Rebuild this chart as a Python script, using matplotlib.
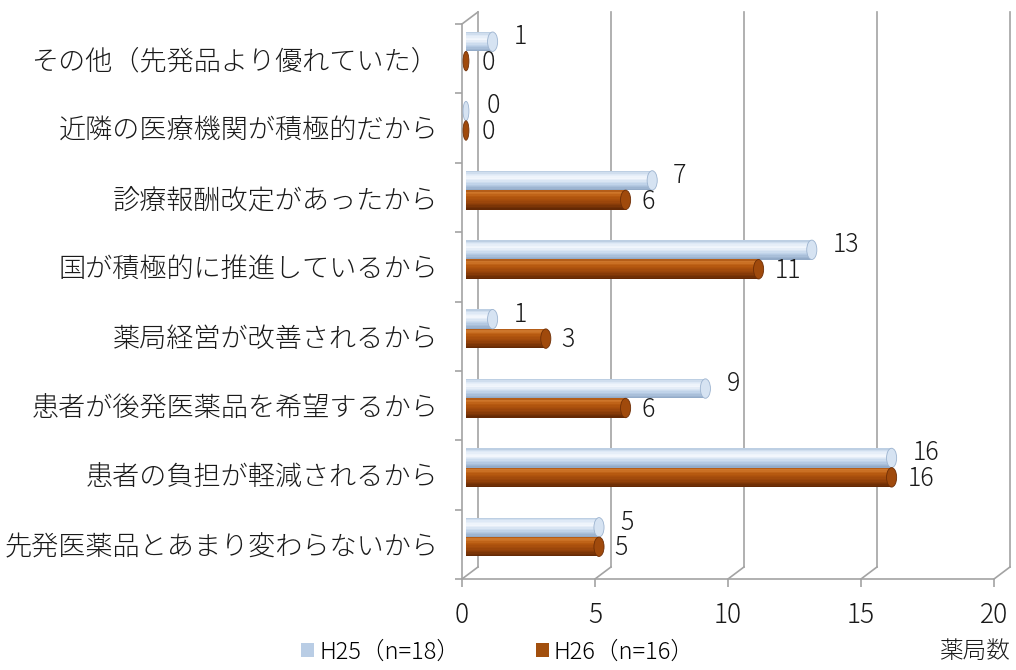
import numpy as np
import matplotlib.pyplot as plt
from matplotlib.patches import Ellipse, Patch
from matplotlib.colors import to_rgb

plt.rcParams['font.family'] = ['Noto Sans CJK JP', 'DejaVu Sans']
plt.rcParams['font.weight'] = 'light'
NUM_FONT = ['Liberation Sans Narrow', 'Noto Sans CJK JP', 'DejaVu Sans']

# reasons, listed bottom to top
categories = [
    '先発医薬品とあまり変わらないから',
    '患者の負担が軽減されるから',
    '患者が後発医薬品を希望するから',
    '薬局経営が改善されるから',
    '国が積極的に推進しているから',
    '診療報酬改定があったから',
    '近隣の医療機関が積極的だから',
    'その他（先発品より優れていた）',
]
h25 = [5, 16, 9, 1, 13, 7, 0, 1]
h26 = [5, 16, 6, 3, 11, 6, 0, 0]
series_names = ['H25（n=18）', 'H26（n=16）']
xticks = [0, 5, 10, 15, 20]

GRID = '#a3a3a3'
DX, DY = 0.6, 0.173          # depth of the 3-D box in data units
BAR_H = 0.28
BAR_LEFT = 0.15
CAP_W = 0.38

# shading stops (bottom -> top) for the cylinders
blue_stops = [(0.0, '#8da6c4'), (0.3, '#bcd0e8'), (0.62, '#f4f8fd'), (0.85, '#dbe7f5'), (1.0, '#b4c7de')]
brown_stops = [(0.0, '#5e2604'), (0.35, '#97430a'), (0.7, '#b85a10'), (0.88, '#d27a2e'), (1.0, '#a8500f')]


def shade(stops, t):
    pos = [p for p, _ in stops]
    cols = np.array([to_rgb(c) for _, c in stops])
    return tuple(np.interp(t, pos, cols[:, k]) for k in range(3))


def cylinder(ax, yc, value, stops, n=14):
    step = BAR_H / n
    for k in range(n):
        t = (k + 0.5) / n
        y = yc - BAR_H / 2 + k * step + step / 2
        if value > 0:
            ax.barh(y, value, height=step * 1.05, left=BAR_LEFT,
                    color=shade(stops, t), linewidth=0, zorder=3)
    cap = Ellipse((BAR_LEFT + value, yc), CAP_W if value > 0 else 0.22, BAR_H,
                  facecolor=shade(stops, 0.45), edgecolor=shade(stops, 0.1),
                  linewidth=0.6, zorder=4)
    ax.add_patch(cap)


fig = plt.figure(figsize=(10.16, 6.70), dpi=100)
ax = fig.add_axes([462 / 1016, 91 / 670, 532 / 1016, 555 / 670])
ax.set_xlim(0, 20)
ax.set_ylim(-0.5, len(categories) - 0.5)
top = len(categories) - 0.5

# back wall and floor of the box
for v in xticks:
    ax.plot([v + DX, v + DX], [-0.5 + DY, top + DY], color=GRID, lw=1.2,
            clip_on=False, zorder=1)
    ax.plot([v, v + DX], [-0.5, -0.5 + DY], color=GRID, lw=1.2,
            clip_on=False, zorder=1)
ax.plot([0, DX], [top, top + DY], color=GRID, lw=1.2, clip_on=False, zorder=1)

for s in ['top', 'right']:
    ax.spines[s].set_visible(False)
for s in ['left', 'bottom']:
    ax.spines[s].set_color(GRID)
    ax.spines[s].set_linewidth(1.2)

y = np.arange(len(categories))
for i in range(len(categories)):
    c25 = i + 0.105 + 0.14
    c26 = i + 0.105 - 0.14
    cylinder(ax, c25, h25[i], blue_stops)
    cylinder(ax, c26, h26[i], brown_stops)
    ax.text(h25[i] + BAR_LEFT + CAP_W / 2 + 0.6, c25 + 0.07, str(h25[i]),
            family=NUM_FONT, fontsize=18, va='center', ha='left',
            color='#1a1a1a', zorder=5)
    ax.text(h26[i] + BAR_LEFT + CAP_W / 2 + 0.4, c26 - 0.02, str(h26[i]),
            family=NUM_FONT, fontsize=18, va='center', ha='left',
            color='#1a1a1a', zorder=5)

ax.set_yticks(y)
ax.set_yticklabels(categories, fontsize=19.5, color='#1a1a1a')
ax.set_yticks(np.arange(-0.5, len(categories)), minor=True)
ax.tick_params(axis='y', which='major', length=0, pad=17)
ax.tick_params(axis='y', which='minor', length=5, width=1.2, color=GRID)

ax.set_xticks(xticks)
ax.set_xticklabels([str(v) for v in xticks], family=NUM_FONT, fontsize=19,
                   color='#1a1a1a')
ax.tick_params(axis='x', length=6, width=1.2, color=GRID, pad=10)

handles = [Patch(facecolor='#b9cde5', edgecolor='none'),
           Patch(facecolor='#a24f0e', edgecolor='none')]
fig.legend(handles, series_names, loc='center', bbox_to_anchor=(0.49, 0.027),
           ncol=2, frameon=False, prop={'family': NUM_FONT, 'size': 17},
           handlelength=0.55, handleheight=0.55, handletextpad=0.2,
           columnspacing=3.2)
fig.text(974 / 1016, 0.027, '薬局数', fontsize=17, ha='center', va='center',
         color='#1a1a1a')

fig.savefig('out.png', dpi=100)
